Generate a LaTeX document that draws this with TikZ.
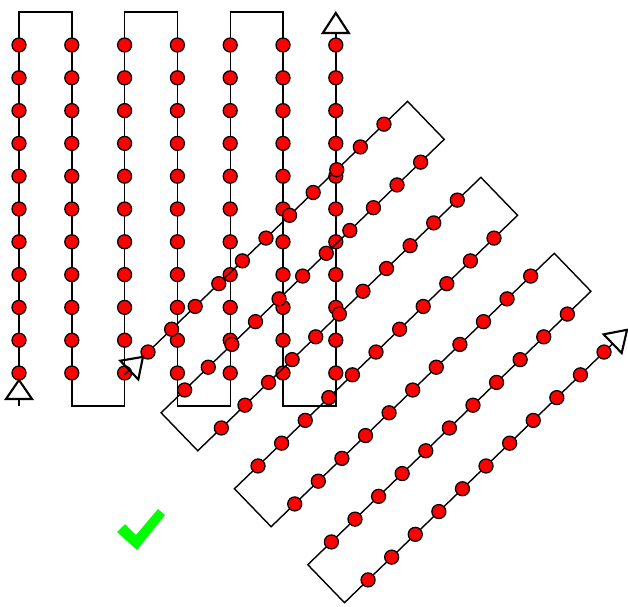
\documentclass[tikz,border=0pt]{standalone}
\begin{document}
\begin{tikzpicture}[x=0.025cm, y=0.025cm, line width=1pt]
	\useasboundingbox (0,0) rectangle (628,-606);

	% the same survey grid twice: upright, then turned
	\foreach \sx/\sy/\ang in {19/-373/0, 148/-352/-46} {
		\begin{scope}[shift={(\sx,\sy)}, rotate=\ang]
			% flight line
			\draw (0,-32.8) -- (0,-26);
			\draw (0,-7) -- (0,360.8) -- (52.8,360.8) -- (52.8,-32.8) -- (105.6,-32.8)
				-- (105.6,360.8) -- (158.4,360.8) -- (158.4,-32.8) -- (211.2,-32.8)
				-- (211.2,360.8) -- (264,360.8) -- (264,-32.8) -- (316.8,-32.8) -- (316.8,340);

			% waypoints
			\foreach \col in {0,...,6}
				\foreach \row in {0,...,10}
					\draw[fill=red, line width=0.9pt] (52.8*\col,32.8*\row) circle (7);

			% start and end markers
			\draw[line width=1.5pt, line join=miter] (-13,-26) -- (13,-26) -- (0,-7) -- cycle;
			\draw[line width=1.5pt, line join=miter] (303.8,340) -- (329.8,340) -- (316.8,360) -- cycle;
		\end{scope}
	}

	% check mark
	\fill[green] (117,-532) -- (125,-524) -- (136,-535) -- (158,-509) -- (165,-515) -- (137,-550) -- cycle;
\end{tikzpicture}
\end{document}
